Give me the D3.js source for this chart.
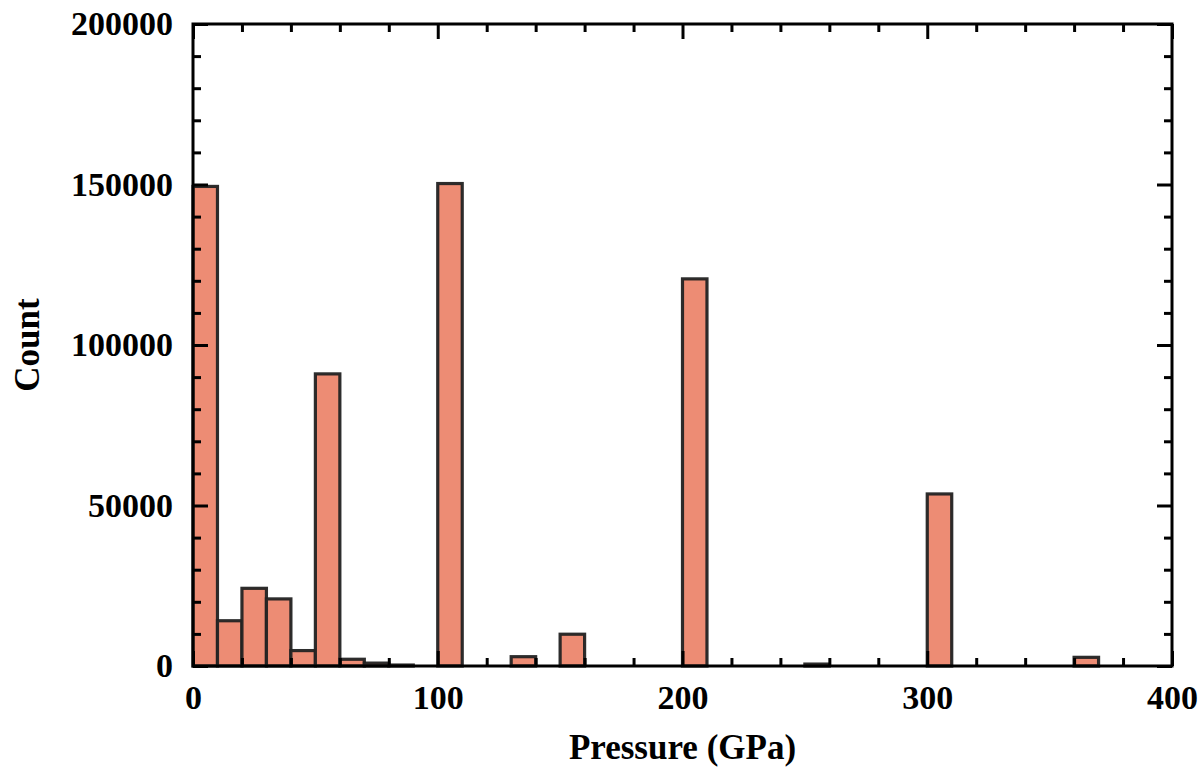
<!DOCTYPE html>
<html>
<head>
<meta charset="utf-8">
<script src="https://cdn.jsdelivr.net/npm/d3@7"></script>
<style>
  html, body { margin: 0; padding: 0; background: #fff; }
  svg { display: block; }
  text { font-family: "Liberation Serif", "Times New Roman", serif; font-weight: bold; fill: #000; }
</style>
</head>
<body>
<svg id="chart" width="1201" height="769"></svg>
<script>
// ---- data ----
const binStarts = [0, 10, 20, 30, 40, 50, 60, 70, 80, 100, 130, 150, 200, 250, 300, 360];
const counts    = [149400, 14100, 24200, 20900, 4800, 91000, 2100, 900, 300, 150300, 2900, 9900, 120600, 600, 53600, 2700];
const binWidth = 10;
const xMajorTicks = [0, 100, 200, 300, 400];
const yMajorTicks = [0, 50000, 100000, 150000, 200000];
const xLabel = "Pressure (GPa)";
const yLabel = "Count";

// ---- layout ----
const svg = d3.select("#chart");
const margin = {left: 193, top: 24, right: 29, bottom: 103};
const W = 1201, H = 769;
const iw = W - margin.left - margin.right;
const ih = H - margin.top - margin.bottom;

const x = d3.scaleLinear().domain([0, 400]).range([0, iw]);
const y = d3.scaleLinear().domain([0, 200000]).range([ih, 0]);

const g = svg.append("g").attr("transform", `translate(${margin.left},${margin.top})`);

// bars
const bins = binStarts.map((s, i) => ({x0: s, x1: s + binWidth, v: counts[i]}));
g.selectAll("rect.bar").data(bins).enter().append("rect")
  .attr("class", "bar")
  .attr("x", d => x(d.x0))
  .attr("width", d => x(d.x1) - x(d.x0))
  .attr("y", d => y(d.v))
  .attr("height", d => y(0) - y(d.v))
  .attr("fill", "#ED8C74")
  .attr("stroke", "#222")
  .attr("stroke-opacity", 0.95)
  .attr("stroke-width", 3.2);

// minor tick arrays
const xMinor = d3.range(0, 401, 20).filter(v => v % 100 !== 0);
const yMinor = d3.range(0, 200001, 10000).filter(v => v % 50000 !== 0);

const majorLen = 15, minorLen = 8, tickW = 3;

function styleAxis(sel) {
  sel.select(".domain").remove();
  sel.selectAll(".tick line").attr("stroke", "#000").attr("stroke-width", tickW);
}

// bottom
const bottomMajor = g.append("g").attr("transform", `translate(0,${ih})`)
  .call(d3.axisBottom(x).tickValues(xMajorTicks).tickSize(-majorLen).tickPadding(19).tickFormat(d3.format("d")));
styleAxis(bottomMajor);
bottomMajor.selectAll(".tick text").attr("font-size", 34).attr("font-family", "Liberation Serif").attr("font-weight", "bold");
const bottomMinor = g.append("g").attr("transform", `translate(0,${ih})`)
  .call(d3.axisBottom(x).tickValues(xMinor).tickSize(-minorLen).tickFormat(""));
styleAxis(bottomMinor);

// top
const topMajor = g.append("g")
  .call(d3.axisTop(x).tickValues(xMajorTicks).tickSize(-majorLen).tickFormat(""));
styleAxis(topMajor);
const topMinor = g.append("g")
  .call(d3.axisTop(x).tickValues(xMinor).tickSize(-minorLen).tickFormat(""));
styleAxis(topMinor);

// left
const leftMajor = g.append("g")
  .call(d3.axisLeft(y).tickValues(yMajorTicks).tickSize(-majorLen).tickPadding(20).tickFormat(d3.format("d")));
styleAxis(leftMajor);
leftMajor.selectAll(".tick text").attr("font-size", 34).attr("font-family", "Liberation Serif").attr("font-weight", "bold");
const leftMinor = g.append("g")
  .call(d3.axisLeft(y).tickValues(yMinor).tickSize(-minorLen).tickFormat(""));
styleAxis(leftMinor);

// right
const rightMajor = g.append("g").attr("transform", `translate(${iw},0)`)
  .call(d3.axisRight(y).tickValues(yMajorTicks).tickSize(-majorLen).tickFormat(""));
styleAxis(rightMajor);
const rightMinor = g.append("g").attr("transform", `translate(${iw},0)`)
  .call(d3.axisRight(y).tickValues(yMinor).tickSize(-minorLen).tickFormat(""));
styleAxis(rightMinor);

// frame
g.append("rect")
  .attr("x", 0).attr("y", 0).attr("width", iw).attr("height", ih)
  .attr("fill", "none").attr("stroke", "#000").attr("stroke-width", 3);

// axis labels
svg.append("text")
  .attr("x", margin.left + iw / 2)
  .attr("y", 759)
  .attr("text-anchor", "middle")
  .attr("font-size", 35)
  .text(xLabel);

svg.append("text")
  .attr("transform", `translate(39,${margin.top + ih / 2}) rotate(-90)`)
  .attr("text-anchor", "middle")
  .attr("font-size", 35)
  .text(yLabel);
</script>
</body>
</html>
